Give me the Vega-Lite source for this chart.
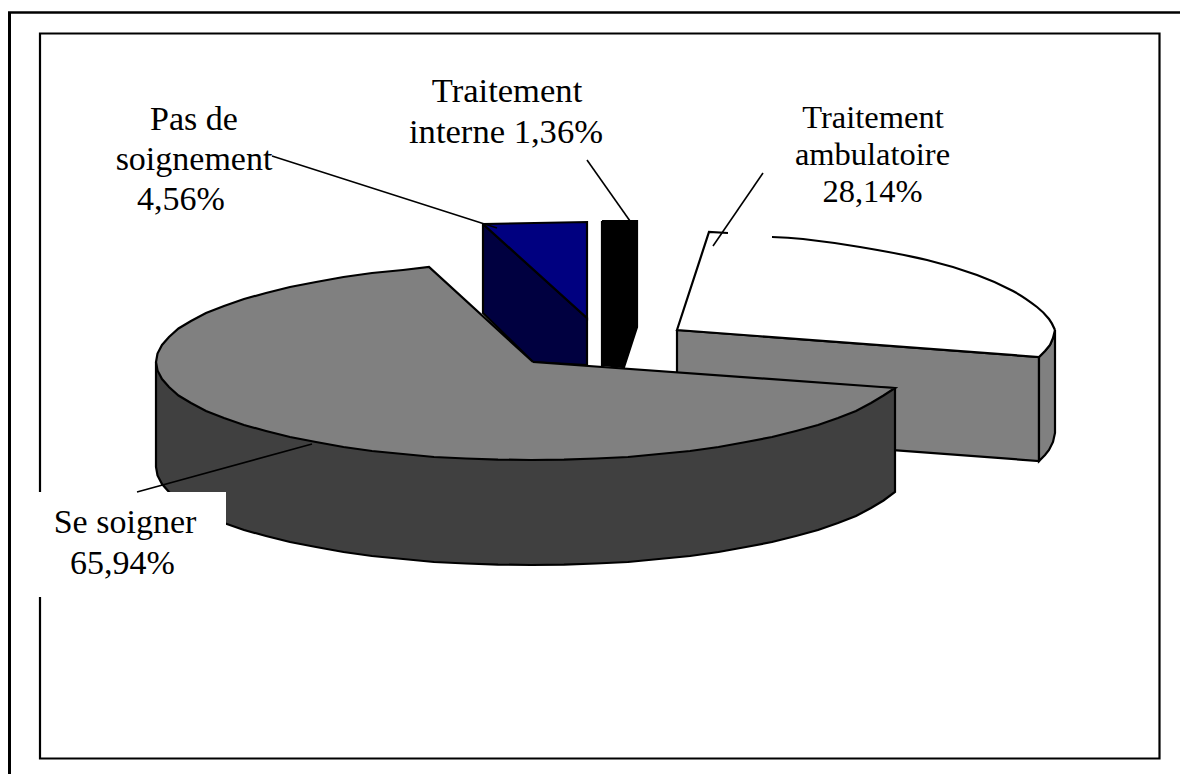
{"$schema":"https://vega.github.io/schema/vega-lite/v6.json","width":1180,"height":774,"autosize":"none","padding":0,"background":"white","view":{"stroke":null},"datasets":{"shapes":[
{"part":"a_rightwall","n":1,"x":677,"y":330},{"part":"a_rightwall","n":2,"x":1039,"y":357},{"part":"a_rightwall","n":3,"x":1039,"y":461},{"part":"a_rightwall","n":4,"x":677,"y":434},{"part":"a_rightwall","n":5,"x":677,"y":330},
{"part":"b_rightend","n":1,"x":1039,"y":357},{"part":"b_rightend","n":2,"x":1045,"y":351},{"part":"b_rightend","n":3,"x":1050,"y":345},{"part":"b_rightend","n":4,"x":1053,"y":338},{"part":"b_rightend","n":5,"x":1055,"y":330},{"part":"b_rightend","n":6,"x":1055,"y":433},{"part":"b_rightend","n":7,"x":1053,"y":442},{"part":"b_rightend","n":8,"x":1049,"y":450},{"part":"b_rightend","n":9,"x":1045,"y":455},{"part":"b_rightend","n":10,"x":1039,"y":461},{"part":"b_rightend","n":11,"x":1039,"y":357},
{"part":"c_bluewall","n":1,"x":483,"y":224},{"part":"c_bluewall","n":2,"x":587,"y":318},{"part":"c_bluewall","n":3,"x":587,"y":365},{"part":"c_bluewall","n":4,"x":533,"y":362},{"part":"c_bluewall","n":5,"x":483,"y":313},{"part":"c_bluewall","n":6,"x":483,"y":224},
{"part":"d_bluetop","n":1,"x":483,"y":224},{"part":"d_bluetop","n":2,"x":587,"y":222},{"part":"d_bluetop","n":3,"x":587,"y":318},{"part":"d_bluetop","n":4,"x":483,"y":224},
{"part":"e_black","n":1,"x":602,"y":221},{"part":"e_black","n":2,"x":637,"y":221},{"part":"e_black","n":3,"x":637,"y":327},{"part":"e_black","n":4,"x":624,"y":367},{"part":"e_black","n":5,"x":602,"y":365},{"part":"e_black","n":6,"x":602,"y":221},
{"part":"f_mainwall","n":1,"x":156,"y":362},{"part":"f_mainwall","n":2,"x":156,"y":467},{"part":"f_mainwall","n":3,"x":157.5,"y":475.5},{"part":"f_mainwall","n":4,"x":162,"y":484},{"part":"f_mainwall","n":5,"x":169,"y":492},{"part":"f_mainwall","n":6,"x":178.5,"y":500.5},{"part":"f_mainwall","n":7,"x":191,"y":508},{"part":"f_mainwall","n":8,"x":206,"y":516},{"part":"f_mainwall","n":9,"x":224,"y":523},{"part":"f_mainwall","n":10,"x":244,"y":530},{"part":"f_mainwall","n":11,"x":266,"y":536},{"part":"f_mainwall","n":12,"x":290,"y":542},{"part":"f_mainwall","n":13,"x":316,"y":547},{"part":"f_mainwall","n":14,"x":343.5,"y":552},{"part":"f_mainwall","n":15,"x":372,"y":556},{"part":"f_mainwall","n":16,"x":403,"y":559},{"part":"f_mainwall","n":17,"x":434,"y":562},{"part":"f_mainwall","n":18,"x":466,"y":563.5},{"part":"f_mainwall","n":19,"x":498,"y":564.6},{"part":"f_mainwall","n":20,"x":531,"y":565},{"part":"f_mainwall","n":21,"x":564,"y":564.6},{"part":"f_mainwall","n":22,"x":596,"y":563.5},{"part":"f_mainwall","n":23,"x":628,"y":562},{"part":"f_mainwall","n":24,"x":659,"y":559},{"part":"f_mainwall","n":25,"x":690,"y":556},{"part":"f_mainwall","n":26,"x":718.5,"y":552},{"part":"f_mainwall","n":27,"x":746,"y":547},{"part":"f_mainwall","n":28,"x":772,"y":542},{"part":"f_mainwall","n":29,"x":796,"y":536},{"part":"f_mainwall","n":30,"x":818,"y":530},{"part":"f_mainwall","n":31,"x":838,"y":523},{"part":"f_mainwall","n":32,"x":856,"y":516},{"part":"f_mainwall","n":33,"x":871,"y":508},{"part":"f_mainwall","n":34,"x":883.5,"y":500.5},{"part":"f_mainwall","n":35,"x":895,"y":492},{"part":"f_mainwall","n":36,"x":895,"y":388},{"part":"f_mainwall","n":37,"x":156,"y":362},
{"part":"g_maintop","n":1,"x":533,"y":362},{"part":"g_maintop","n":2,"x":429,"y":267},{"part":"g_maintop","n":3,"x":403,"y":270},{"part":"g_maintop","n":4,"x":372,"y":273},{"part":"g_maintop","n":5,"x":343.5,"y":277},{"part":"g_maintop","n":6,"x":316,"y":282},{"part":"g_maintop","n":7,"x":290,"y":287},{"part":"g_maintop","n":8,"x":266,"y":293},{"part":"g_maintop","n":9,"x":244,"y":299},{"part":"g_maintop","n":10,"x":224,"y":306},{"part":"g_maintop","n":11,"x":206,"y":313},{"part":"g_maintop","n":12,"x":191,"y":321},{"part":"g_maintop","n":13,"x":178.5,"y":328.5},{"part":"g_maintop","n":14,"x":169,"y":337},{"part":"g_maintop","n":15,"x":162,"y":345},{"part":"g_maintop","n":16,"x":157.5,"y":353.5},{"part":"g_maintop","n":17,"x":156,"y":362},{"part":"g_maintop","n":18,"x":157.5,"y":370.5},{"part":"g_maintop","n":19,"x":162,"y":379},{"part":"g_maintop","n":20,"x":169,"y":387},{"part":"g_maintop","n":21,"x":178.5,"y":395.5},{"part":"g_maintop","n":22,"x":191,"y":403},{"part":"g_maintop","n":23,"x":206,"y":411},{"part":"g_maintop","n":24,"x":224,"y":418},{"part":"g_maintop","n":25,"x":244,"y":425},{"part":"g_maintop","n":26,"x":266,"y":431},{"part":"g_maintop","n":27,"x":290,"y":437},{"part":"g_maintop","n":28,"x":316,"y":442},{"part":"g_maintop","n":29,"x":343.5,"y":447},{"part":"g_maintop","n":30,"x":372,"y":451},{"part":"g_maintop","n":31,"x":403,"y":454},{"part":"g_maintop","n":32,"x":434,"y":457},{"part":"g_maintop","n":33,"x":466,"y":458.5},{"part":"g_maintop","n":34,"x":498,"y":459.6},{"part":"g_maintop","n":35,"x":531,"y":460},{"part":"g_maintop","n":36,"x":564,"y":459.6},{"part":"g_maintop","n":37,"x":596,"y":458.5},{"part":"g_maintop","n":38,"x":628,"y":457},{"part":"g_maintop","n":39,"x":659,"y":454},{"part":"g_maintop","n":40,"x":690,"y":451},{"part":"g_maintop","n":41,"x":718.5,"y":447},{"part":"g_maintop","n":42,"x":746,"y":442},{"part":"g_maintop","n":43,"x":772,"y":437},{"part":"g_maintop","n":44,"x":796,"y":431},{"part":"g_maintop","n":45,"x":818,"y":425},{"part":"g_maintop","n":46,"x":838,"y":418},{"part":"g_maintop","n":47,"x":856,"y":411},{"part":"g_maintop","n":48,"x":871,"y":403},{"part":"g_maintop","n":49,"x":883.5,"y":395.5},{"part":"g_maintop","n":50,"x":895,"y":388},{"part":"g_maintop","n":51,"x":533,"y":362}
],
"lines":[
{"id":"outerL","n":1,"x":9.5,"y":774},{"id":"outerL","n":2,"x":9.5,"y":12},
{"id":"outerT","n":1,"x":8,"y":12.5},{"id":"outerT","n":2,"x":1180,"y":12.5},
{"id":"frame","n":1,"x":40,"y":492},{"id":"frame","n":2,"x":40,"y":33.5},{"id":"frame","n":3,"x":1159.5,"y":33.5},{"id":"frame","n":4,"x":1159.5,"y":758.5},{"id":"frame","n":5,"x":40,"y":758.5},{"id":"frame","n":6,"x":40,"y":597}
],
"rightwhite":[
{"n":1,"x":677,"y":330},{"n":2,"x":709,"y":232},{"n":3,"x":772,"y":237},{"n":4,"x":803,"y":238},{"n":5,"x":860,"y":247},{"n":6,"x":927,"y":259},{"n":7,"x":977,"y":275},{"n":8,"x":1013,"y":292},{"n":9,"x":1037,"y":307},{"n":10,"x":1052,"y":323},{"n":11,"x":1055,"y":330},{"n":12,"x":1050,"y":345},{"n":13,"x":1039,"y":357},{"n":14,"x":677,"y":330}
],
"rightedges":[
{"id":"a","n":1,"x":728,"y":233},{"id":"a","n":2,"x":709,"y":232},{"id":"a","n":3,"x":677,"y":330},{"id":"a","n":4,"x":1039,"y":357},{"id":"a","n":5,"x":1045,"y":351},{"id":"a","n":6,"x":1050,"y":345},{"id":"a","n":7,"x":1053,"y":338},{"id":"a","n":8,"x":1055,"y":330}
],
"rightarc":[{"n":1,"x":772,"y":237},{"n":2,"x":803,"y":239},{"n":3,"x":860,"y":247},{"n":4,"x":927,"y":260},{"n":5,"x":977,"y":275},{"n":6,"x":1013,"y":291},{"n":7,"x":1037,"y":307},{"n":8,"x":1049,"y":319},{"n":9,"x":1055,"y":330}],
"leaders":[
{"id":"a","n":1,"x":272,"y":156},{"id":"a","n":2,"x":497,"y":228},
{"id":"b","n":1,"x":587,"y":160},{"id":"b","n":2,"x":630,"y":221},
{"id":"c","n":1,"x":763,"y":173},{"id":"c","n":2,"x":713,"y":246},
{"id":"d","n":1,"x":137,"y":492},{"id":"d","n":2,"x":312,"y":444}
],
"mask":[{"x":38,"x2":226,"y":492,"y2":597}],
"labels":[
{"g":"top","t":"Traitement","x":507,"y":102},{"g":"top","t":"interne 1,36%","x":506,"y":143},
{"g":"big","t":"Pas de","x":194,"y":130},{"g":"big","t":"soignement","x":194,"y":170},{"g":"big","t":"4,56%","x":181,"y":210},
{"g":"small","t":"Traitement","x":873,"y":128},{"g":"small","t":"ambulatoire","x":872.5,"y":165},{"g":"small","t":"28,14%","x":872.5,"y":202},
{"g":"big","t":"Se soigner","x":125,"y":533},{"g":"big","t":"65,94%","x":122.5,"y":574}
]},
"encoding":{"x":{"field":"x","type":"quantitative","scale":{"domain":[0,1180],"nice":false},"axis":null},"y":{"field":"y","type":"quantitative","scale":{"domain":[774,0],"nice":false},"axis":null}},
"layer":[
{"data":{"name":"lines"},"mark":{"type":"line","stroke":"black"},"encoding":{"strokeWidth":{"field":"id","type":"nominal","legend":null,"scale":{"domain":["outerL","outerT","frame"],"range":[3,2.2,1.6]}},"order":{"field":"n","type":"quantitative"}}},
{"data":{"name":"shapes"},"mark":{"type":"line","stroke":"black","strokeWidth":2.2,"strokeJoin":"miter"},"transform":[{"filter":"datum.part<'c'"}],"encoding":{"fill":{"field":"part","type":"nominal","legend":null,"scale":{"domain":["a_rightwall","b_rightend","c_bluewall","d_bluetop","e_black","f_mainwall","g_maintop"],"range":["#808080","#808080","#000040","#000080","#000000","#404040","#808080"]}},"order":{"field":"n","type":"quantitative"}}},
{"data":{"name":"rightwhite"},"mark":{"type":"line","fill":"white","stroke":null,"strokeWidth":0},"encoding":{"order":{"field":"n","type":"quantitative"}}},
{"data":{"name":"rightedges"},"mark":{"type":"line","stroke":"black","strokeWidth":2.2},"encoding":{"order":{"field":"n","type":"quantitative"}}},
{"data":{"name":"rightarc"},"mark":{"type":"line","stroke":"black","strokeWidth":2.2,"interpolate":"cardinal"},"encoding":{"order":{"field":"n","type":"quantitative"}}},
{"data":{"name":"shapes"},"mark":{"type":"line","stroke":"black","strokeWidth":2.2,"strokeJoin":"miter"},"transform":[{"filter":"datum.part>='c'"}],"encoding":{"fill":{"field":"part","type":"nominal","legend":null,"scale":{"domain":["a_rightwall","b_rightend","c_bluewall","d_bluetop","e_black","f_mainwall","g_maintop"],"range":["#808080","#808080","#000040","#000080","#000000","#404040","#808080"]}},"order":{"field":"n","type":"quantitative"}}},
{"data":{"name":"mask"},"mark":{"type":"rect","fill":"white"},"encoding":{"x2":{"field":"x2"},"y2":{"field":"y2"}}},
{"data":{"name":"leaders"},"mark":{"type":"line","stroke":"black","strokeWidth":1.6},"encoding":{"detail":{"field":"id"},"order":{"field":"n","type":"quantitative"}}},
{"data":{"name":"labels"},"transform":[{"filter":"datum.g=='top'"}],"mark":{"type":"text","font":"Liberation Serif","fontSize":34.6,"color":"#000000","align":"center","baseline":"alphabetic"},"encoding":{"text":{"field":"t"}}},
{"data":{"name":"labels"},"transform":[{"filter":"datum.g=='big'"}],"mark":{"type":"text","font":"Liberation Serif","fontSize":34,"color":"#000000","align":"center","baseline":"alphabetic"},"encoding":{"text":{"field":"t"}}},
{"data":{"name":"labels"},"transform":[{"filter":"datum.g=='small'"}],"mark":{"type":"text","font":"Liberation Serif","fontSize":32.5,"color":"#000000","align":"center","baseline":"alphabetic"},"encoding":{"text":{"field":"t"}}}
]}
